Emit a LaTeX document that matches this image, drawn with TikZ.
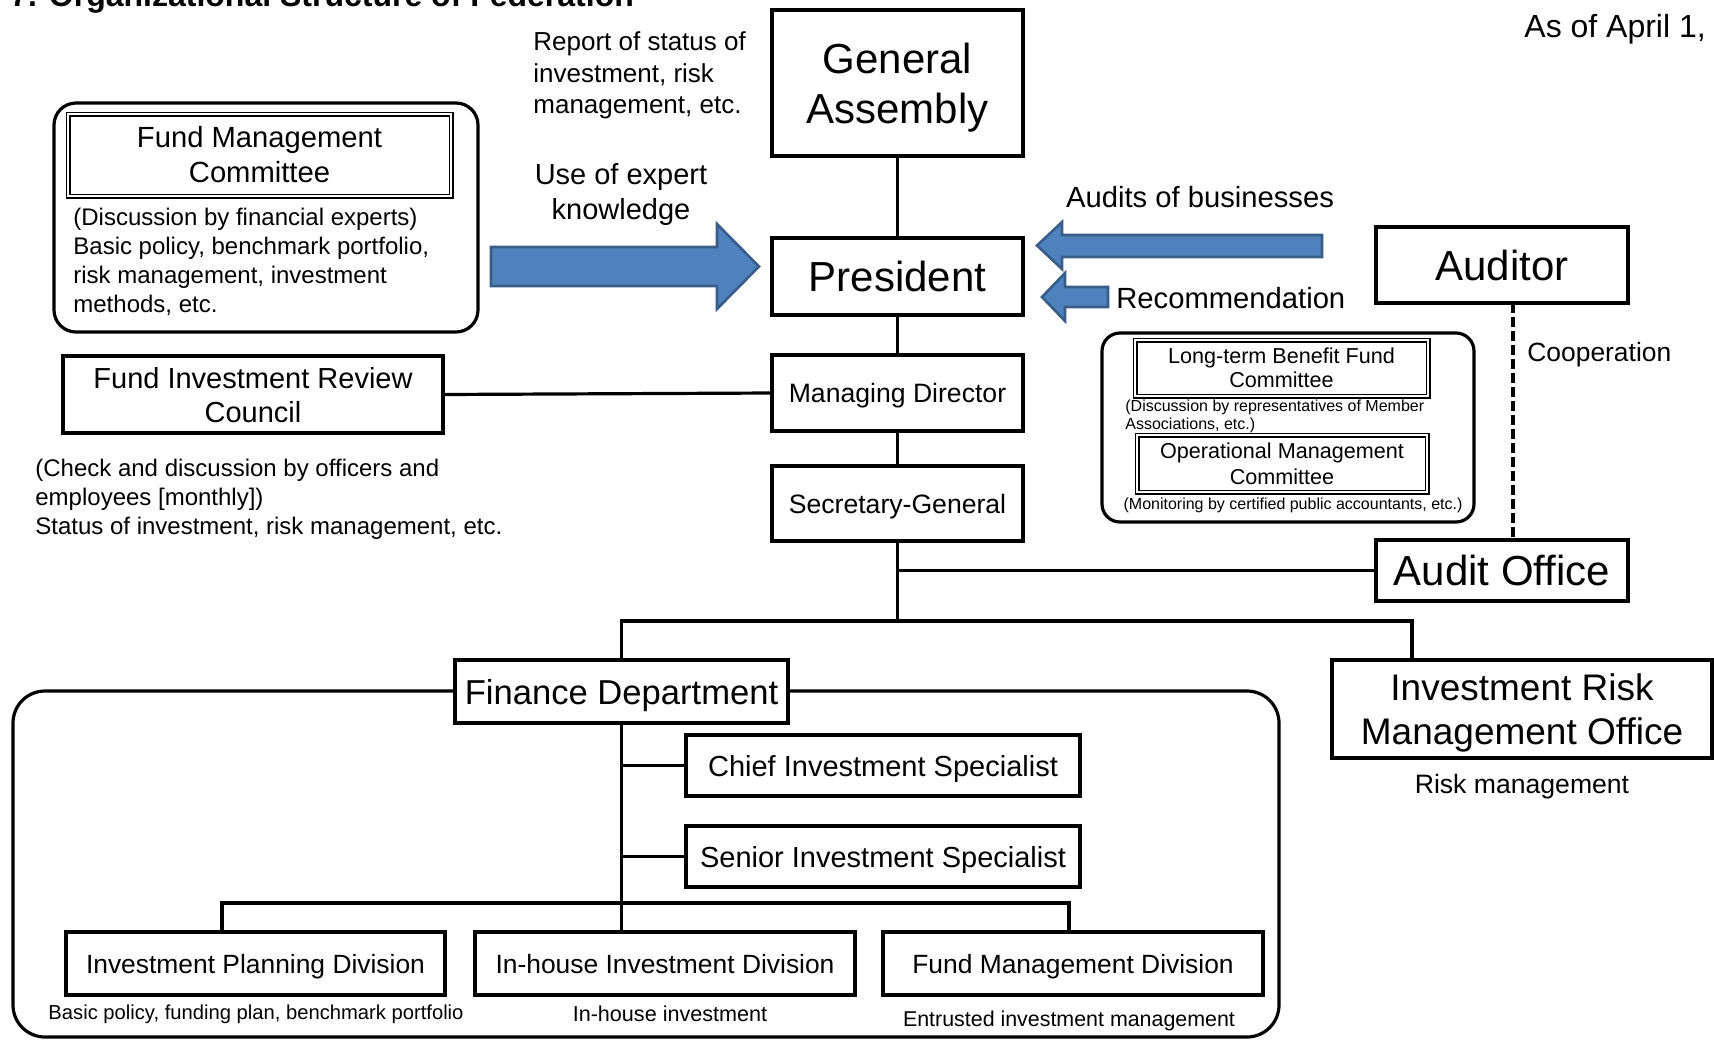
\documentclass[tikz,border=0pt]{standalone}
\usepackage{fontspec}
\setmainfont{Liberation Sans}
\definecolor{arrowblue}{RGB}{79,129,189}
\definecolor{arrowedge}{RGB}{56,93,138}
\newcommand{\fsz}[2]{\fontsize{#1}{#2}\selectfont}

\begin{document}
\begin{tikzpicture}[x=0.5pt,y=-0.5pt,
    unit/.style={draw,line width=1.6pt,fill=white,align=center,inner sep=0pt,outer sep=0pt,text depth=0pt},
    cmte/.style={draw,double,line width=0.75pt,double distance=1pt,fill=white,align=center,inner sep=0pt},
    note/.style={inner sep=0pt,align=left},
    link/.style={line width=1.6pt},
    coop/.style={line width=2pt,dash pattern=on 5pt off 2pt},
    fatarrow/.style={fill=arrowblue,draw=arrowedge,line width=1.3pt,line join=miter}]
  \useasboundingbox (0,0) rectangle (1714,1040);
  % title and date, cut by the page edge
  \node[anchor=base west,inner sep=0pt,font=\bfseries\fsz{16}{19}] (title) at (10,6) {7. Organizational Structure of Federation};
  \node[anchor=base west,inner sep=0pt,font=\fsz{16}{19}] (asof) at (1524,37) {As of April 1, 2};

  % main line
  \node[unit,minimum width=125.5pt,minimum height=73pt,font=\fsz{21}{25},text depth=-2.2pt] (ga) at (897.5,83) {General\\Assembly};
  \node[unit,minimum width=125.5pt,minimum height=38.5pt,font=\fsz{21}{25}] (pres) at (897.5,276.5) {President};
  \node[unit,minimum width=125.5pt,minimum height=38pt,font=\fsz{13.3}{15},text depth=-1.6pt] (md) at (897.5,393) {Managing Director};
  \node[unit,minimum width=125.5pt,minimum height=37.5pt,font=\fsz{13.3}{15}] (sg) at (897.5,503.5) {Secretary-General};
  \node[unit,minimum width=126pt,minimum height=38pt,font=\fsz{21}{25}] (aud) at (1502,265) {Auditor};
  \node[unit,minimum width=126pt,minimum height=30.5pt,font=\fsz{21}{25}] (ao) at (1502,570.5) {Audit Office};

  % fund management committee
  \draw[link,rounded corners=11pt] (54,103) rectangle (478,332);
  \node[cmte,minimum width=191.5pt,minimum height=41pt,font=\fsz{14.6}{17.5}] (fmc) at (259.5,155) {Fund Management\\Committee};
  \node[note,anchor=west,font=\fsz{12}{14.5}] (fmcnote) at (73,262) {(Discussion by financial experts)\\Basic policy, benchmark portfolio,\\risk management, investment\\methods, etc.};

  % review council
  \node[unit,minimum width=190pt,minimum height=38.5pt,font=\fsz{14.5}{17}] (firc) at (253,394.5) {Fund Investment Review\\Council};
  \node[note,anchor=west,font=\fsz{12}{14.5}] (fircnote) at (35,499) {(Check and discussion by officers and\\employees [monthly])\\Status of investment, risk management, etc.};

  % labels near the president
  \node[note,anchor=west,font=\fsz{13}{15.75}] (report) at (533,75.5) {Report of status of\\investment, risk\\management, etc.};
  \node[note,align=center,font=\fsz{14.5}{17.5}] (expert) at (621,195) {Use of expert\\knowledge};
  \node[note,font=\fsz{14.6}{16}] (auditlbl) at (1200,197) {Audits of businesses};
  \node[note,anchor=west,font=\fsz{14.6}{16}] (reclbl) at (1116,298) {Recommendation};
  \node[note,anchor=west,font=\fsz{13.2}{16}] (cooplbl) at (1527,355) {Cooperation};

  % committees on the right
  \draw[link,rounded corners=9pt] (1102,333) rectangle (1474,522);
  \node[cmte,minimum width=146.5pt,minimum height=28pt,font=\fsz{10.8}{12}] (ltbf) at (1281.5,368) {Long-term Benefit Fund\\Committee};
  \node[note,anchor=west,font=\fsz{8}{9}] (ltbfnote) at (1125,416) {(Discussion by representatives of Member\\Associations, etc.)};
  \node[cmte,minimum width=145pt,minimum height=28.5pt,font=\fsz{10.8}{13}] (omc) at (1282,463.5) {Operational Management\\Committee};
  \node[note,font=\fsz{8}{9}] (omcnote) at (1293,505) {(Monitoring by certified public accountants, etc.)};

  % finance department
  \draw[link,rounded corners=16pt] (13,691) rectangle (1279,1037);
  \node[unit,minimum width=166.5pt,minimum height=31.5pt,font=\fsz{17.3}{20}] (fd) at (621.5,691.5) {Finance Department};
  \node[unit,minimum width=190pt,minimum height=49pt,font=\fsz{18.5}{22}] (irmo) at (1522,709) {Investment Risk\\Management Office};
  \node[note,font=\fsz{13.3}{16}] (irmonote) at (1522,787) {Risk management};
  \node[unit,minimum width=197pt,minimum height=30.5pt,font=\fsz{14.5}{17}] (cis) at (883,765.5) {Chief Investment Specialist};
  \node[unit,minimum width=197pt,minimum height=30.5pt,font=\fsz{14.5}{17}] (sis) at (883,856.5) {Senior Investment Specialist};
  \node[unit,minimum width=189.5pt,minimum height=31.5pt,font=\fsz{13.2}{16}] (ipd) at (255.5,963.5) {Investment Planning Division};
  \node[unit,minimum width=190pt,minimum height=31.5pt,font=\fsz{13.2}{16}] (ihd) at (665,963.5) {In-house Investment Division};
  \node[unit,minimum width=190pt,minimum height=31.5pt,font=\fsz{13.2}{16}] (fmd) at (1073,963.5) {Fund Management Division};
  \node[note,font=\fsz{10.1}{12}] (ipdnote) at (256,1014) {Basic policy, funding plan, benchmark portfolio};
  \node[note,font=\fsz{10.8}{12}] (ihdnote) at (670,1014) {In-house investment};
  \node[note,font=\fsz{10.7}{12}] (fmdnote) at (1069,1021) {Entrusted investment management};

  % bus points
  \coordinate (busy) at (0,621);
  \coordinate (busR) at (1412,621);
  \coordinate (b2L) at (222,903);
  \coordinate (b2R) at (1069,903);
  \coordinate (coopx) at (1513,0);

  % connectors
  \draw[link] (ga) -- (pres);
  \draw[link] (pres) -- (md);
  \draw[link] (md) -- (sg);
  \draw[link] (firc.east) -- (md.west);
  \draw[link] (sg.south) -- (sg.south |- busy);
  \draw[link] (sg.south |- ao) -- (ao.west);
  \draw[link] (fd.north) -- (fd.north |- busy) -- (busR) -- (busR |- irmo.north);
  \draw[coop] (aud.south -| coopx) -- (ao.north -| coopx);
  \draw[link] (fd.south) -- (ihd.north -| fd.south);
  \draw[link] (fd.south |- cis) -- (cis.west);
  \draw[link] (fd.south |- sis) -- (sis.west);
  \draw[link] (b2L |- ipd.north) -- (b2L) -- (b2R) -- (b2R |- fmd.north);

  % block arrows
  \draw[fatarrow] (491,247) -- (717,247) -- (717,224) -- (759,266.5) -- (717,309) -- (717,286) -- (491,286) -- cycle;
  \draw[fatarrow] (1322,235) -- (1062,235) -- (1062,222) -- (1037,245.5) -- (1062,269) -- (1062,257) -- (1322,257) -- cycle;
  \draw[fatarrow] (1108,287) -- (1065,287) -- (1065,273) -- (1042,297) -- (1065,321) -- (1065,307) -- (1108,307) -- cycle;
\end{tikzpicture}
\end{document}
